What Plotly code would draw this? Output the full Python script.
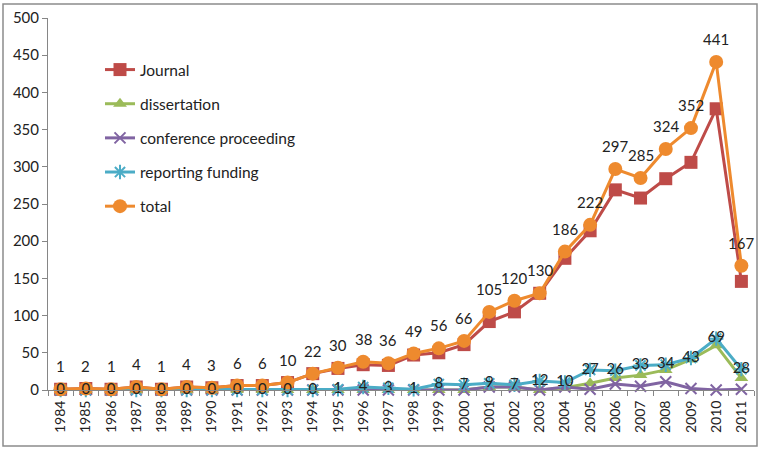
import plotly.graph_objects as go

years = [str(y) for y in range(1984, 2012)]
journal = [1, 2, 1, 4, 1, 4, 3, 6, 6, 10, 22, 29, 34, 33, 47, 50, 61, 92, 105, 130, 177, 214, 269, 258, 284, 306, 378, 146]
dissertation = [0]*17 + [4, 4, 0, 3, 9, 16, 20, 27, 41, 60, 16]
conference = [0]*17 + [4, 4, 0, 4, 1, 8, 5, 11, 2, 0, 1]
reporting = [0]*11 + [1, 4, 3, 1, 8, 7, 9, 7, 12, 10, 27, 26, 33, 34, 43, 69, 28]
total = [1, 2, 1, 4, 1, 4, 3, 6, 6, 10, 22, 30, 38, 36, 49, 56, 66, 105, 120, 130, 186, 222, 297, 285, 324, 352, 441, 167]

FONT = "Lato"
TXT = "#222222"

fig = go.Figure()

def add_series(name, y, color, symbol, size, open_marker=False):
    marker = dict(symbol=symbol, size=size, color=color)
    if open_marker:
        marker["line"] = dict(color=color, width=2)
    else:
        marker["line"] = dict(color=color, width=0)
    fig.add_trace(go.Scatter(
        x=years, y=y, name=name, mode="lines+markers",
        line=dict(color=color, width=3), marker=marker,
        legendgroup=name, cliponaxis=False))

add_series("Journal", journal, "#BE4B48", "square", 13)
add_series("dissertation", dissertation, "#9BBB59", "triangle-up", 12)
add_series("conference proceeding", conference, "#8064A2", "x-thin-open", 11, True)
add_series("reporting funding", reporting, "#4BACC6", "asterisk-open", 12, True)
add_series("total", total, "#EE8A2E", "circle", 14)

# labels of reporting funding, centered on points
fig.add_trace(go.Scatter(
    x=years, y=reporting, mode="text", text=[str(v) for v in reporting],
    textposition="middle center", textfont=dict(family=FONT, size=15, color=TXT),
    showlegend=False, cliponaxis=False, hoverinfo="skip"))

# labels of total, above points (category index positions)
for i, yv in enumerate(total):
    fig.add_annotation(x=i, y=yv, text=str(yv), showarrow=False, yshift=23,
                       font=dict(family=FONT, size=15, color=TXT))

fig.add_shape(type="rect", xref="paper", yref="paper",
              x0=(3-48)/706, x1=(757-48)/706, y0=(390-446)/372, y1=(390-4)/372,
              line=dict(color="#8C8C8C", width=1.5), layer="below")

fig.update_layout(
    width=760, height=451,
    margin=dict(l=48, r=6, t=18, b=61),
    paper_bgcolor="white", plot_bgcolor="white",
    font=dict(family=FONT, size=15, color=TXT),
    showlegend=True,
    legend=dict(x=(100-48)/706, y=(390-53)/372, xanchor="left", yanchor="top",
                bgcolor="rgba(0,0,0,0)", tracegroupgap=11,
                font=dict(family=FONT, size=15.5, color=TXT)),
    xaxis=dict(type="category", range=[-0.5, len(years)-0.5], tickson="boundaries",
               ticks="outside", ticklen=5, ticklabelstandoff=4,
               tickcolor="#868686", showline=True, linecolor="#868686", linewidth=1,
               tickangle=-90, showgrid=False, zeroline=False,
               tickfont=dict(family=FONT, size=14, color=TXT)),
    yaxis=dict(range=[0, 500], dtick=50, ticks="outside", ticklen=5,
               tickcolor="#868686", showline=True, linecolor="#868686", linewidth=1,
               showgrid=False, zeroline=False,
               tickfont=dict(family=FONT, size=15, color=TXT)),
)

fig.write_html("out.html", config={"displayModeBar": False},
               post_script="document.body.style.margin='0';document.body.style.overflow='hidden';")
